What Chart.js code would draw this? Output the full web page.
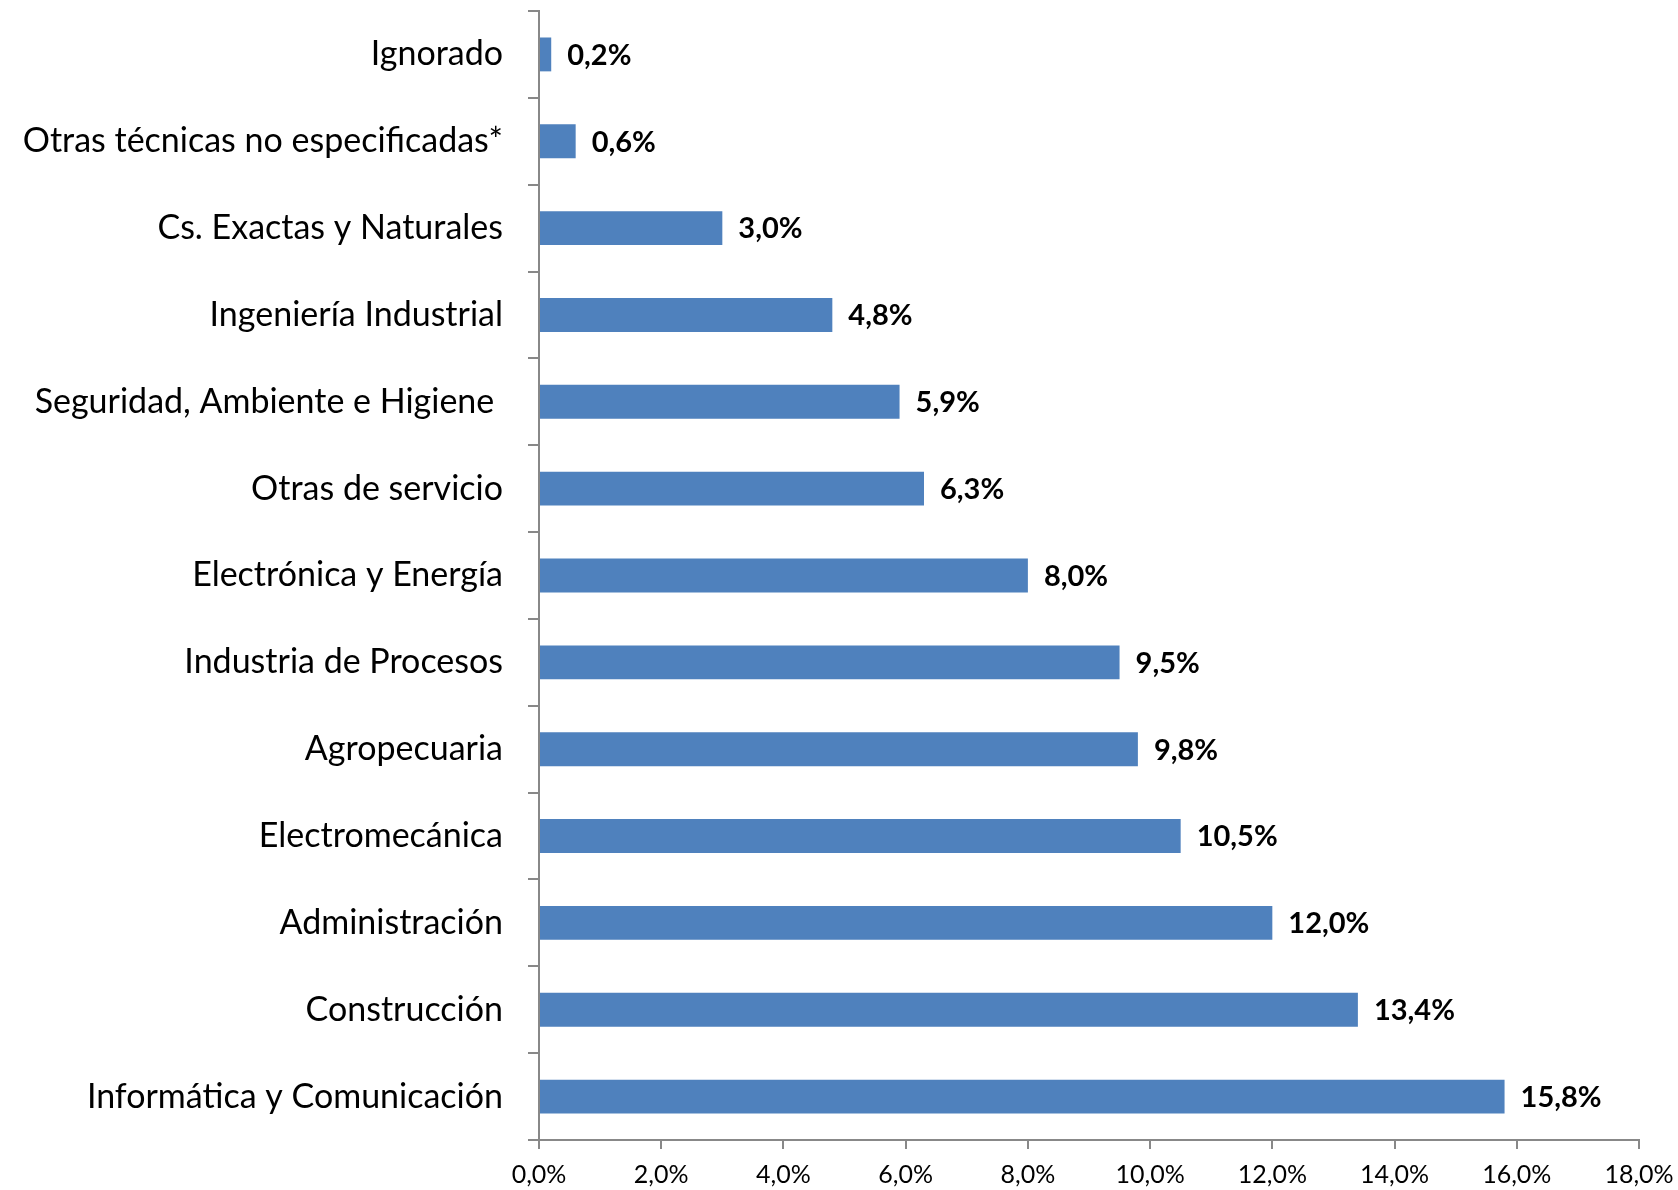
<!DOCTYPE html>
<html>
<head>
<meta charset="utf-8">
<script src="https://cdn.jsdelivr.net/npm/chart.js@4/dist/chart.umd.min.js"></script>
<style>
html,body{margin:0;padding:0;background:#fff;}
#wrap{width:1678px;height:1190px;position:relative;}
</style>
</head>
<body>
<div id="wrap"><canvas id="c" width="1678" height="1190"></canvas></div>
<script>
const categories = [
  "Ignorado",
  "Otras técnicas no especificadas*",
  "Cs. Exactas y Naturales",
  "Ingeniería Industrial",
  "Seguridad, Ambiente e Higiene ",
  "Otras de servicio",
  "Electrónica y Energía",
  "Industria de Procesos",
  "Agropecuaria",
  "Electromecánica",
  "Administración",
  "Construcción",
  "Informática y Comunicación"
];
const values = [0.2, 0.6, 3.0, 4.8, 5.9, 6.3, 8.0, 9.5, 9.8, 10.5, 12.0, 13.4, 15.8];
const valueLabels = ["0,2%","0,6%","3,0%","4,8%","5,9%","6,3%","8,0%","9,5%","9,8%","10,5%","12,0%","13,4%","15,8%"];
const xTickLabels = ["0,0%","2,0%","4,0%","6,0%","8,0%","10,0%","12,0%","14,0%","16,0%","18,0%"];

const FONT = "Lato, 'Open Sans', sans-serif";
const axisColor = "#888888";

const labelPlugin = {
  id: 'valueLabels',
  afterDatasetsDraw(chart) {
    const ctx = chart.ctx;
    const meta = chart.getDatasetMeta(0);
    ctx.save();
    ctx.font = "bold 29px " + FONT;
    ctx.fillStyle = "#000";
    ctx.textAlign = "left";
    ctx.textBaseline = "middle";
    meta.data.forEach((bar, i) => {
      ctx.fillText(valueLabels[i], bar.x + 16, bar.y + 1);
    });
    ctx.restore();
  }
};

new Chart(document.getElementById('c'), {
  type: 'bar',
  data: {
    labels: categories,
    datasets: [{
      data: values,
      backgroundColor: '#4F81BD',
      borderWidth: 0,
      categoryPercentage: 1.0,
      barPercentage: 0.39
    }]
  },
  options: {
    indexAxis: 'y',
    responsive: false,
    animation: false,
    layout: { padding: { top: 11, right: 39, left: 0, bottom: 0 } },
    plugins: { legend: { display: false }, tooltip: { enabled: false } },
    scales: {
      x: {
        min: 0, max: 18,
        ticks: {
          stepSize: 2,
          color: '#000',
          font: { family: FONT, size: 25 },
          padding: 11,
          maxRotation: 0,
          callback: (v, i) => xTickLabels[i]
        },
        grid: { drawOnChartArea: false, color: axisColor, tickLength: 9, lineWidth: 2 },
        border: { color: axisColor, width: 2 },
        afterFit(scale) {
          scale.height = 50;
          scale.paddingLeft = 0; scale.paddingRight = 0;
          scale.paddingTop = 0; scale.paddingBottom = 0;
        }
      },
      y: {
        ticks: {
          color: '#000',
          font: { family: FONT, size: 34 },
          padding: 25
        },
        grid: { drawOnChartArea: false, color: axisColor, tickLength: 11, lineWidth: 2, offset: true },
        border: { color: axisColor, width: 2 },
        afterFit(scale) {
          scale.width = 539;
          scale.paddingLeft = 0; scale.paddingRight = 0;
          scale.paddingTop = 0; scale.paddingBottom = 0;
        }
      }
    }
  },
  plugins: [labelPlugin]
});
</script>
</body>
</html>
